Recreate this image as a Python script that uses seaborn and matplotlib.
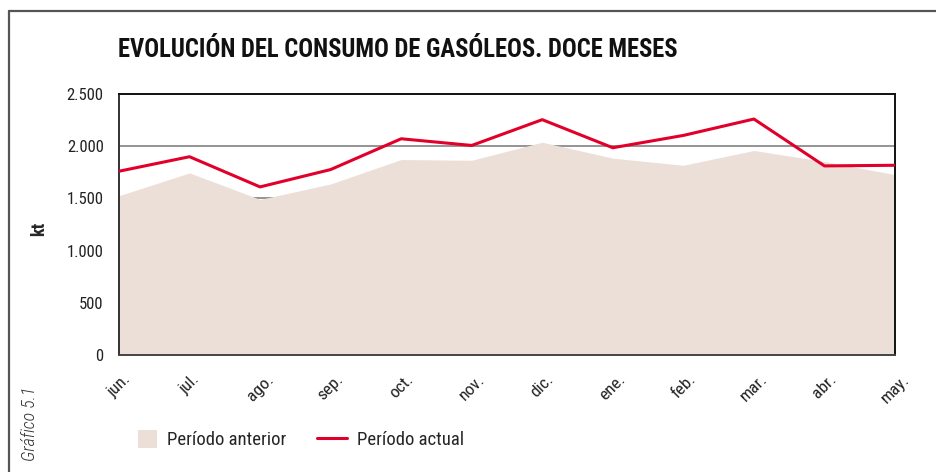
import matplotlib
matplotlib.use("Agg")
import matplotlib.pyplot as plt
from matplotlib.patches import Patch, Rectangle
from matplotlib.lines import Line2D
from matplotlib.legend_handler import HandlerPatch
import seaborn as sns
import pandas as pd

meses = ["jun.", "jul.", "ago.", "sep.", "oct.", "nov.", "dic.", "ene.", "feb.", "mar.", "abr.", "may."]
periodo_anterior = [1526, 1744, 1490, 1638, 1872, 1865, 2038, 1885, 1817, 1959, 1853, 1728]
periodo_actual = [1760, 1899, 1610, 1776, 2071, 2007, 2254, 1985, 2103, 2260, 1811, 1817]
yticks = [0, 500, 1000, 1500, 2000, 2500]
ytick_labels = ["0", "500", "1.000", "1.500", "2.000", "2.500"]

titulo = "EVOLUCIÓN DEL CONSUMO DE GASÓLEOS. DOCE MESES"

sns.set_style("white")
plt.rcParams["font.family"] = ["Roboto Condensed", "DejaVu Sans"]

df = pd.DataFrame({"x": range(len(meses)), "anterior": periodo_anterior, "actual": periodo_actual})

fig = plt.figure(figsize=(9.36, 4.72), dpi=100)
ax = fig.add_axes([0.1271, 0.2479, 0.8291, 0.5530])

red = "#E2002A"
fill = "#EBDFD8"

for y in yticks:
    ax.axhline(y, color="#777777", lw=1.1, zorder=0)
ax.fill_between(df["x"], 0, df["anterior"], color=fill, lw=0, zorder=1)
sns.lineplot(data=df, x="x", y="actual", ax=ax, color=red, lw=2.2, zorder=3)

ax.set_xlim(0, len(meses) - 1)
ax.set_ylim(0, 2500)
ax.set_yticks(yticks)
ax.set_yticklabels(ytick_labels, fontsize=12, color="#222222")
ax.set_xticks(range(len(meses)))
ax.set_xticklabels(meses, rotation=45, ha="center", fontsize=12.5, color="#222222")
ax.tick_params(axis="both", direction="out", length=7, width=1.2, color="#333333", pad=4)
ax.tick_params(axis="x", pad=5)
ax.set_xlabel("")
ax.set_ylabel("kt", fontsize=13, fontweight="bold")
ax.yaxis.set_label_coords(-0.0915, 0.485)
for s in ax.spines.values():
    s.set_color("#111111")
    s.set_linewidth(1.4)
    s.set_visible(True)
ax.spines["bottom"].set_color("#444444")
ax.spines["left"].set_color("#333333")

fig.text(118 / 936, 1 - 50 / 472, titulo, fontsize=17.7, fontweight="bold", va="center", ha="left", color="#111111")

fig.text(30 / 936, 1 - 424 / 472, "Gráfico 5.1", rotation=90, style="italic", fontweight="light", fontsize=13,
         va="center", ha="center", color="#333333")

# frame
fig.add_artist(Line2D([9 / 936, 9 / 936], [0, 1 - 11 / 472], transform=fig.transFigure, color="#555555", lw=1.6))
fig.add_artist(Line2D([9 / 936, 1], [1 - 11 / 472, 1 - 11 / 472], transform=fig.transFigure, color="#555555", lw=1.6))


def small_square(legend, orig_handle, xdescent, ydescent, width, height, fontsize):
    w = 13.7
    h = 13.0
    return Rectangle((width - w - xdescent, -ydescent + (height - h) / 2), w, h)


handles = [Patch(facecolor=fill, edgecolor="none", label="Período anterior"),
           Line2D([], [], color=red, lw=2.2, label="Período actual")]
fig.legend(handles=handles, loc="center left", bbox_to_anchor=(127 / 936, 1 - 440 / 472), ncol=2,
           frameon=False, fontsize=13.5, handlelength=1.6, handleheight=1.0, columnspacing=1.6,
           handletextpad=0.55, borderpad=0, borderaxespad=0,
           handler_map={Patch: HandlerPatch(patch_func=small_square)})

fig.savefig("out.png", dpi=100)
